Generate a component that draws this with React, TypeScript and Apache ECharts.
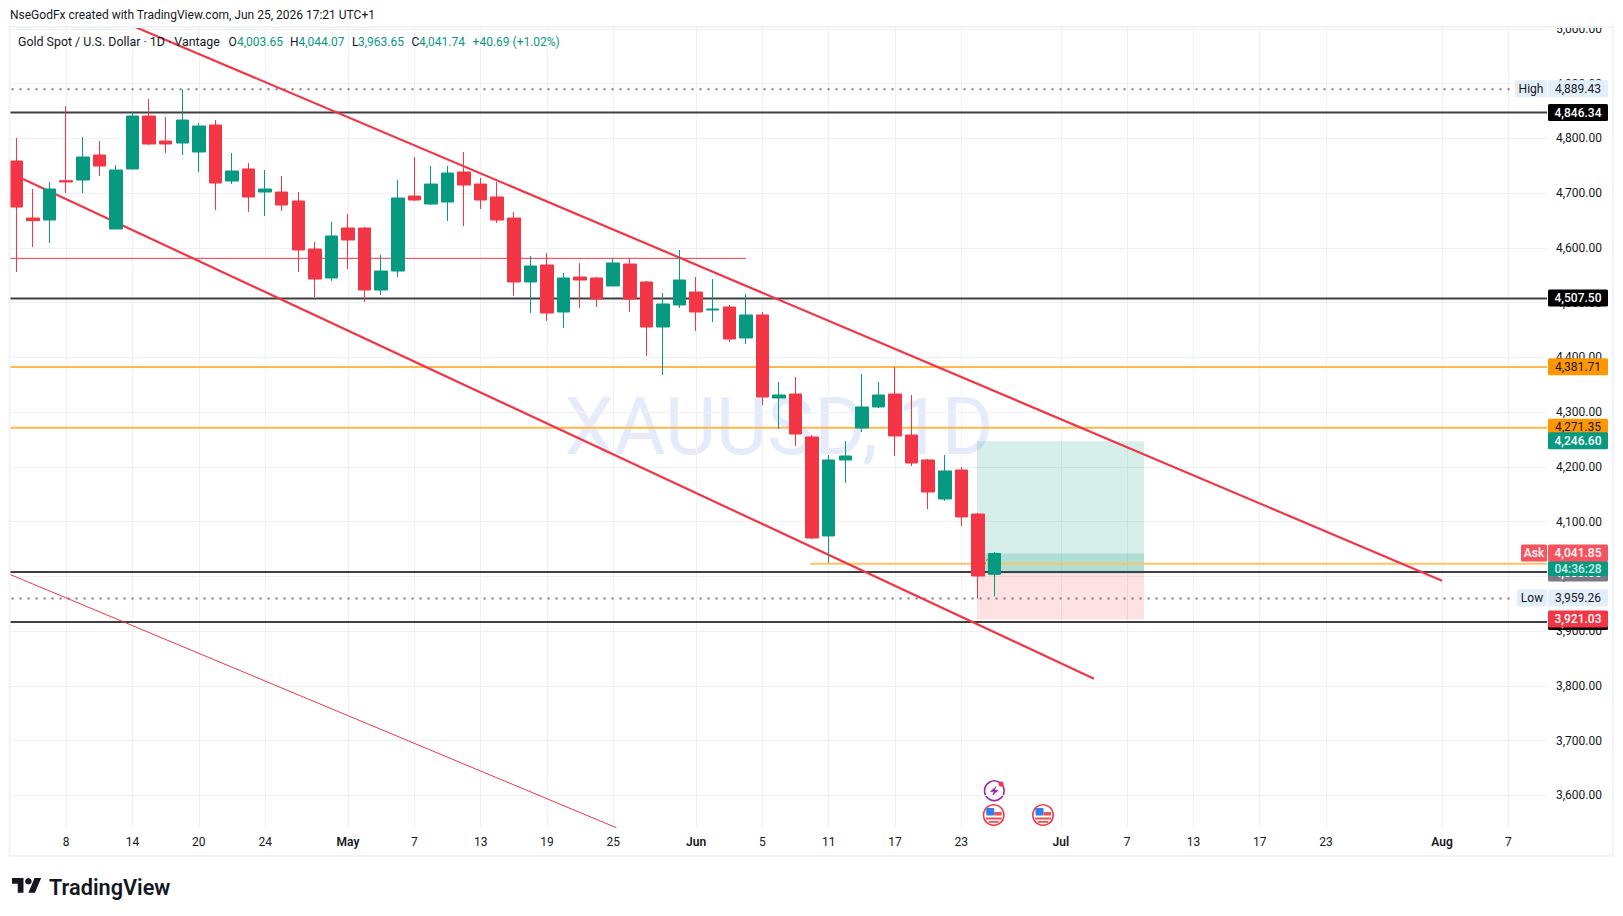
import React, { useEffect, useRef } from "react";
import * as echarts from "echarts";

// ---- Data ----
const opens = [4758.5,4654.4,4650.8,4722.6,4723.8,4769.5,4634.4,4744,4840.7,4795.1,4791.4,4775,4824.3,4722,4744,4701.9,4701.9,4685.5,4597.8,4544.9,4636.2,4636.2,4522.9,4557.6,4694.6,4680,4683.7,4738.5,4716.5,4692.8,4654.4,4537.6,4568.6,4482.8,4546.7,4544.9,4530.3,4570.4,4537.6,4455.4,4495.6,4519.3,4486.4,4491.9,4435.3,4477.3,4325.7,4333,4254.5,4073.7,4212.5,4270.9,4309.3,4333,4258.1,4212.5,4141.2,4194.2,4113.8,4003.65];
const closes = [4674.5,4649.6,4707.4,4720.2,4765.9,4749.4,4742.1,4840.7,4789.6,4789.6,4833.4,4822.5,4718.4,4740.3,4692.8,4707.4,4678.2,4596,4543,4621.6,4614.3,4522.9,4557.6,4691,4687.3,4716.5,4736.6,4714.7,4687.3,4650.8,4537.6,4566.8,4480.9,4544.9,4541.2,4506.5,4572.3,4506.5,4455.4,4497.4,4541.2,4482.8,4488.2,4433.5,4477.3,4327.5,4331.2,4259.9,4070,4212.5,4219.8,4309.3,4331.2,4256.3,4207,4154,4192.4,4108.4,4000.6,4041.74];
const highs = [4800.6,4707.4,4720.2,4859,4802.4,4795.1,4751.2,4848,4871.8,4838.9,4889.43,4827.9,4833.4,4773.2,4754.9,4742.1,4731.2,4701.9,4610.6,4647.1,4661.7,4638,4586.9,4723.8,4765.9,4749.4,4749.4,4775,4727.5,4720.2,4665.4,4585,4590.5,4554,4572.3,4546.7,4581.4,4579.6,4539.4,4517.5,4596,4546.7,4543,4495.6,4515.6,4482.8,4354.9,4364,4258.1,4221.6,4247.2,4369.5,4354.9,4382.3,4331.2,4214.3,4221.6,4199.7,4115.7,4044.07];
const lows = [4555.8,4601.5,4608.8,4700.1,4700.1,4731.2,4634.4,4743,4787.8,4773.2,4769.5,4738.4,4669.1,4716.5,4665.4,4658.1,4667.2,4555.8,4510.2,4539.4,4561.3,4501,4513.8,4546.7,4685.5,4678.2,4649,4639.8,4670.9,4645.3,4512,4480.9,4466.3,4453.5,4490.1,4491.9,4530.3,4482.8,4402.4,4367.7,4490.1,4448.1,4464.5,4428,4424.3,4312.9,4269.1,4238,4068.2,4024.3,4170.5,4263.6,4307.4,4219.8,4201.5,4122.8,4137.6,4091.9,3959.26,3963.65];

const dateTickIndex = [3,7,11,15,20,24,28,32,36,41,45,49,53,57,63,67,71,75,79,86,90];
const dateTickLabels = ["8","14","20","24","May","7","13","19","25","Jun","5","11","17","23","Jul","7","13","17","23","Aug","7"];
const priceTicks = [3600,3700,3800,3900,4000,4100,4200,4300,4400,4500,4600,4700,4800,4900,5000];

const blackLevels = [4847.3,4507.5,4007.8,3916.5];
const orangeLevels = [4382.5,4271.35];
const dottedLevels = [4889.43,3959.26];
const upperChannel = [[7.2,5002.7],[86,3992]];
const lowerChannel = [[0.39,4725.7],[65,3813]];
const thinChannel = [[-0.39,4003.3],[36.19,3540.8]];
const thinRedLevel = [[-0.39,4580.8],[44,4580.8]];
const shortOrangeLevel = [[47.87,4023],[92.33,4023]];
const entryConnector = [[58.4,4022],[58.75,4041],[59.4,4041]];

const profitBox = [57.94,68.02,4246.6,4005];
const lossBox = [57.94,68.02,4005,3921.03];
const pnlBox = [58.4,68.02,4041.74,4005];

const tagValues = [4889.43,4846.34,4507.5,4381.71,4271.35,4246.6,3916.5,3921.03,3959.26,4005,4013.3,4041.85];
const tagTexts = ["4,889.43","4,846.34","4,507.50","4,381.71","4,271.35","4,246.60","3,916.50","3,921.03","3,959.26","4,003.65","04:36:28","4,041.85"];
const tagKinds = ["info","black","black","orange","orange","green","black","red","info","gray","timer","ask"];
const sideValues = [4889.43,3959.26,4041.85];
const sideTexts = ["High","Low","Ask"];
const sideKinds = ["info","info","ask"];

const legendOHLC = [["O","4,003.65"],["H","4,044.07"],["L","3,963.65"],["C","4,041.74"]];

// ---- Styles ----
const UP = "#089981";
const DOWN = "#F23645";
const FONT = "Roboto";
const kindStyle: any = {
  info: { bg: "#e3eefb", fg: "#131722", w: 400 },
  black: { bg: "#000000", fg: "#ffffff", w: 500 },
  orange: { bg: "#FF9800", fg: "#131722", w: 400 },
  green: { bg: UP, fg: "#ffffff", w: 500 },
  red: { bg: DOWN, fg: "#ffffff", w: 500 },
  gray: { bg: "#787B86", fg: "#ffffff", w: 500 },
  timer: { bg: UP, fg: "#c9eee7", h: 15, w: 500 },
  ask: { bg: "#F7525F", fg: "#ffffff", w: 500 },
};
const X_MIN = -0.392;
const X_MAX = 92.33;

const lineSeries = (data: number[][], color: string, width: number, type: any = "solid") => ({
  type: "line",
  data,
  symbol: "none",
  silent: true,
  z: 3,
  lineStyle: { color, width, type },
});

const boxSeries = (box: number[], color: string) => ({
  type: "custom",
  silent: true,
  z: 1,
  data: [box],
  encode: { x: [0, 1], y: [2, 3] },
  renderItem: (_p: any, api: any) => {
    const a = api.coord([api.value(0), api.value(2)]);
    const b = api.coord([api.value(1), api.value(3)]);
    return { type: "rect", shape: { x: a[0], y: a[1], width: b[0] - a[0], height: b[1] - a[1] }, style: { fill: color } };
  },
});

const tagSeries = (vals: number[], texts: string[], kinds: string[], side: boolean) => ({
  type: "custom",
  silent: true,
  z: 20,
  clip: false,
  data: vals.map((v, i) => [X_MAX, v, i]),
  encode: { x: 0, y: 1 },
  renderItem: (p: any, api: any) => {
    const i = api.value(2);
    const y = api.coord([X_MAX, api.value(1)])[1];
    const st = kindStyle[kinds[i]];
    const h = st.h || 17;
    const right = p.coordSys.x + p.coordSys.width;
    const width = side ? (texts[i] === "High" ? 32 : texts[i] === "Low" ? 30 : 26) : 60;
    const x = side ? right - width : right + 1;
    return {
      type: "group",
      children: [
        { type: "rect", shape: { x, y: y - h / 2 - 0.5, width, height: h, r: 1.5 }, style: { fill: st.bg } },
        { type: "text", style: { text: texts[i], x: x + width / 2, y: y - 0.3, fill: st.fg, fontFamily: FONT, fontSize: 12, fontWeight: st.w, align: "center", verticalAlign: "middle" } },
      ],
    };
  },
});

const txt = (text: string, x: number, y: number, fill: string, size = 12, extra: any = {}) => ({
  type: "text",
  z: 92,
  style: { text, x, y, fill, fontFamily: FONT, fontSize: size, align: "left", verticalAlign: "middle", ...extra },
});

const flag = (cx: number, cy: number) => ({
  type: "group",
  z: 30,
  x: cx,
  y: cy,
  children: [
    { type: "circle", shape: { cx: 0, cy: 0, r: 10.2 }, style: { fill: "#fff", stroke: DOWN, lineWidth: 1.6 } },
    { type: "rect", shape: { x: -7.5, y: -7, width: 8, height: 7.5, r: 1 }, style: { fill: "#2F80ED" } },
    { type: "rect", shape: { x: 0.5, y: -3, width: 7.5, height: 3.5 }, style: { fill: "#EF5350" } },
    { type: "rect", shape: { x: -8, y: 2.5, width: 16, height: 2 }, style: { fill: "#EF5350" } },
    { type: "rect", shape: { x: -5, y: 6, width: 10, height: 1.8 }, style: { fill: "#EF5350" } },
  ],
});

export default function App() {
  const ref = useRef<HTMLDivElement>(null);
  useEffect(() => {
    echarts.graphic.registerShape(
      "tvlogo",
      echarts.graphic.extendPath("M14 22H7V11H0V4h14v18zM28 22h-8l7.5-18h8L28 22z", {})
    );
    const chart = echarts.init(ref.current!, null, { renderer: "svg" });
    const lx = [228.5, 290, 352, 411.5];
    const vx = [237, 298.5, 358, 419];
    const legendItems: any[] = [];
    legendOHLC.forEach((kv, i) => {
      legendItems.push(txt(kv[0], lx[i], 41.5, "#131722"));
      legendItems.push(txt(kv[1], vx[i], 41.5, UP));
    });
    chart.setOption({
      animation: false,
      backgroundColor: "#ffffff",
      grid: { left: 10, top: 28, width: 1537, height: 800, containLabel: false },
      xAxis: {
        type: "value",
        min: X_MIN,
        max: X_MAX,
        axisLine: { show: false },
        axisTick: { show: false, customValues: dateTickIndex },
        splitLine: { show: true, lineStyle: { color: "#eff1f4", width: 1 } },
        axisLabel: {
          customValues: dateTickIndex,
          margin: 8,
          color: "#131722",
          fontFamily: FONT,
          fontSize: 12,
          hideOverlap: false,
          showMinLabel: true,
          showMaxLabel: true,
          formatter: (v: number) => {
            const t = dateTickLabels[dateTickIndex.indexOf(v)] ?? "";
            return /[A-Za-z]/.test(t) ? `{m|${t}}` : t;
          },
          rich: { m: { fontFamily: FONT, fontSize: 12, fontWeight: 600, color: "#131722" } },
        },
      },
      yAxis: {
        type: "value",
        position: "right",
        min: 3540.3,
        max: 5001.5,
        axisLine: { show: false },
        axisTick: { show: false, customValues: priceTicks },
        splitLine: { show: true, lineStyle: { color: "#eff1f4", width: 1 } },
        axisLabel: {
          customValues: priceTicks,
          margin: 9,
          color: "#131722",
          fontFamily: FONT,
          fontSize: 12,
          align: "left",
          padding: [0, 0, 2, 0],
          hideOverlap: false,
          showMinLabel: true,
          showMaxLabel: true,
          formatter: (v: number) =>
            v.toLocaleString("en-US", { minimumFractionDigits: 2, maximumFractionDigits: 2 }),
        },
      },
      series: [
        boxSeries(profitBox, "rgba(8,153,129,0.16)"),
        boxSeries(lossBox, "rgba(242,54,69,0.15)"),
        boxSeries(pnlBox, "rgba(8,153,129,0.2)"),
        ...blackLevels.map((v) => lineSeries([[X_MIN, v], [X_MAX, v]], "#404040", 2)),
        ...orangeLevels.map((v) => lineSeries([[X_MIN, v], [X_MAX, v]], "#FFB74D", 2)),
        lineSeries(shortOrangeLevel, "#FFC266", 2),
        ...dottedLevels.map((v) => lineSeries([[-0.3, v], [90.28, v]], "#787B86", 2, [2, 6])),
        lineSeries(upperChannel, DOWN, 2.2),
        lineSeries(lowerChannel, DOWN, 2.2),
        lineSeries(thinChannel, DOWN, 1),
        lineSeries(thinRedLevel, DOWN, 1),
        lineSeries(entryConnector, "#787B86", 1, [2, 2]),
        {
          type: "candlestick",
          silent: true,
          z: 5,
          barWidth: 13,
          data: opens.map((o, i) => [i, o, closes[i], lows[i], highs[i]]),
          encode: { x: 0, y: [1, 2, 3, 4] },
          itemStyle: { color: UP, color0: DOWN, borderColor: UP, borderColor0: DOWN, borderWidth: 1 },
        },
        tagSeries(tagValues, tagTexts, tagKinds, false),
        tagSeries(sideValues, sideTexts, sideKinds, true),
      ],
      graphic: {
        elements: [
          {
            type: "text",
            z: 0,
            silent: true,
            style: { text: "XAUUSD, 1D", x: 779, y: 427, fill: "#e6ebfc", fontFamily: FONT, fontSize: 79, align: "center", verticalAlign: "middle" },
          },
          { type: "rect", z: 90, shape: { x: 0, y: 0, width: 1623, height: 27 }, style: { fill: "#ffffff" } },
          { type: "rect", z: 91, shape: { x: 9.5, y: 27, width: 1603.5, height: 829 }, style: { fill: "none", stroke: "#f0f3fa", lineWidth: 2 } },
          txt("NseGodFx created with TradingView.com, Jun 25, 2026 17:21 UTC+1", 10, 15, "#131722", 12),
          txt("Gold Spot / U.S. Dollar · 1D · Vantage", 18, 41.5, "#131722", 12.4),
          ...legendItems,
          txt("+40.69 (+1.02%)", 472.6, 41.5, UP),
          { type: "tvlogo", z: 92, x: 12, y: 874.7, scaleX: 0.82, scaleY: 0.82, style: { fill: "#131722" } },
          { type: "circle", z: 92, shape: { cx: 12 + 20 * 0.82, cy: 874.7 + 8 * 0.82, r: 4 * 0.82 }, style: { fill: "#131722" } },
          txt("TradingView", 49, 887, "#131722", 21.7, { fontWeight: 600 }),
          {
            type: "group", z: 30, x: 994.3, y: 790.7,
            children: [
              { type: "circle", shape: { cx: 0, cy: 0, r: 9.8 }, style: { fill: "#fff", stroke: "#9C27B0", lineWidth: 1.6 } },
              { type: "polygon", shape: { points: [[2.5, -5], [-4.5, 1], [-0.5, 1], [-2.5, 5.5], [4.5, -0.8], [0.5, -0.8]] }, style: { fill: "#9C27B0" } },
              { type: "circle", shape: { cx: 6.8, cy: -6.6, r: 2.6 }, style: { fill: DOWN } },
            ],
          },
          flag(993.7, 815),
          flag(1043, 815),
        ],
      },
    });
    return () => chart.dispose();
  }, []);
  return <div ref={ref} style={{ position: "fixed", left: 0, top: 0, width: 1623, height: 916 }} />;
}
